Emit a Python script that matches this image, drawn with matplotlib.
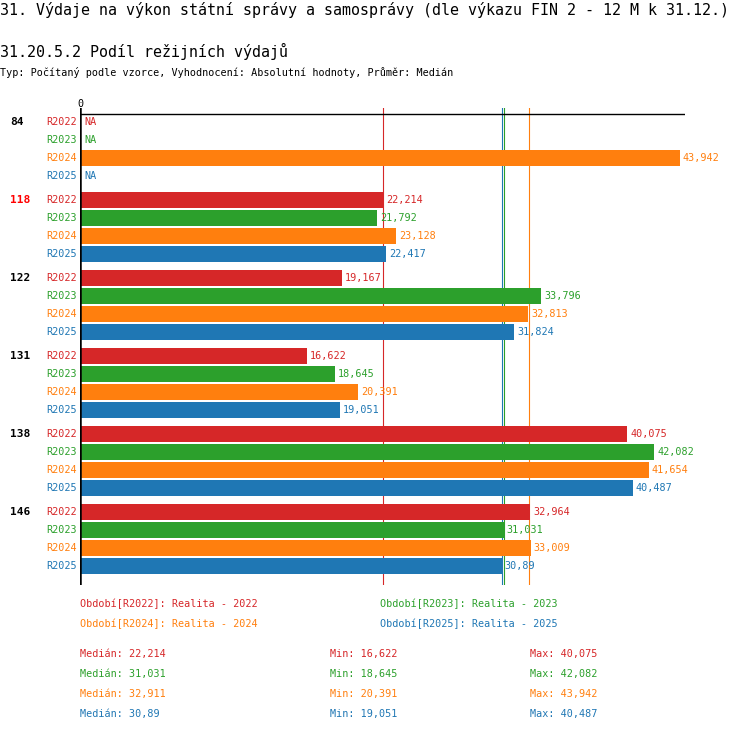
import numpy as np
import matplotlib
matplotlib.use("Agg")
import matplotlib.pyplot as plt

W, H = 750, 732

groups = ["84", "118", "122", "131", "138", "146"]
highlight = "118"
periods = ["R2022", "R2023", "R2024", "R2025"]
colors = ["#d62728", "#2ca02c", "#ff7f0e", "#1f77b4"]
nan = np.nan
r2022 = [nan, 22.214, 19.167, 16.622, 40.075, 32.964]
r2023 = [nan, 21.792, 33.796, 18.645, 42.082, 31.031]
r2024 = [43.942, 23.128, 32.813, 20.391, 41.654, 33.009]
r2025 = [nan, 22.417, 31.824, 19.051, 40.487, 30.89]
series = [r2022, r2023, r2024, r2025]
legend_labels = ["Období[R2022]: Realita - 2022", "Období[R2023]: Realita - 2023",
                 "Období[R2024]: Realita - 2024", "Období[R2025]: Realita - 2025"]

title = "31. Výdaje na výkon státní správy a samosprávy (dle výkazu FIN 2 - 12 M k 31.12.)"
subtitle = "31.20.5.2 Podíl režijních výdajů"
info = "Typ: Počítaný podle vzorce, Vyhodnocení: Absolutní hodnoty, Průměr: Medián"

MONO = "DejaVu Sans Mono"
SMALL = 7.3


def fmt(v):
    s = f"{v:.3f}".rstrip("0").rstrip(".")
    return s.replace(".", ",")


def px(x, y):
    return x / W, 1 - y / H


fig = plt.figure(figsize=(W / 100, H / 100), dpi=100)
fig.patch.set_facecolor("white")

# plot area in pixels
left, right, top, bottom = 80, 685, 108, 585
ax = fig.add_axes([left / W, 1 - bottom / H, (right - left) / W, (bottom - top) / H])
ax.set_axis_off()

row = 18.0
gstep = 78.0 / row
n_per = len(periods)
scale = 13.65  # px per unit
ax.set_xlim(0, (right - left) / scale)
last = (len(groups) - 1) * gstep + n_per - 1
ax.set_ylim(last + 19 / row, -14 / row)

for g, grp in enumerate(groups):
    y0 = g * gstep
    ax.text(-70 / scale, y0, grp, ha="left", va="center", family=MONO,
            fontsize=8, fontweight="bold",
            color="red" if grp == highlight else "black")
    for b, (vals, c, p) in enumerate(zip(series, colors, periods)):
        y = y0 + b
        ax.text(-3 / scale, y, p, ha="right", va="center", family=MONO,
                fontsize=SMALL, color=c)
        v = vals[g]
        if np.isnan(v):
            ax.text(4 / scale, y, "NA", ha="left", va="center", family=MONO,
                    fontsize=SMALL, color=c)
        else:
            ax.barh(y, v, height=16 / row, color=c, zorder=2)
            ax.text(v + 3 / scale, y, fmt(v), ha="left", va="center", family=MONO,
                    fontsize=SMALL, color=c, zorder=3)

# median lines
for s, c in zip(series, colors):
    ax.axvline(np.nanmedian(s), color=c, lw=0.8, zorder=1)

ax.axhline(-8 / row, color="black", lw=1.0, zorder=4)
ax.axvline(0, color="black", lw=1.8, zorder=4)
ax.text(0, -13 / row, "0", ha="center", va="bottom", family=MONO, fontsize=SMALL)

# titles
fig.text(*px(0, 10), title, ha="left", va="center", family=MONO, fontsize=10.8)
fig.text(*px(0, 51), subtitle, ha="left", va="center", family=MONO, fontsize=10.8)
fig.text(*px(0, 73), info, ha="left", va="center", family=MONO, fontsize=SMALL)

# legend
leg_pos = [(80, 604), (380, 604), (80, 624), (380, 624)]
for (x, y), lab, c in zip(leg_pos, legend_labels, colors):
    fig.text(*px(x, y), lab, ha="left", va="center", family=MONO, fontsize=SMALL, color=c)

# stats
for i, (s, c) in enumerate(zip(series, colors)):
    y = 654 + 20 * i
    fig.text(*px(80, y), "Medián: " + fmt(np.nanmedian(s)), ha="left", va="center",
             family=MONO, fontsize=SMALL, color=c)
    fig.text(*px(330, y), "Min: " + fmt(np.nanmin(s)), ha="left", va="center",
             family=MONO, fontsize=SMALL, color=c)
    fig.text(*px(530, y), "Max: " + fmt(np.nanmax(s)), ha="left", va="center",
             family=MONO, fontsize=SMALL, color=c)

fig.savefig("out.png", dpi=100)
